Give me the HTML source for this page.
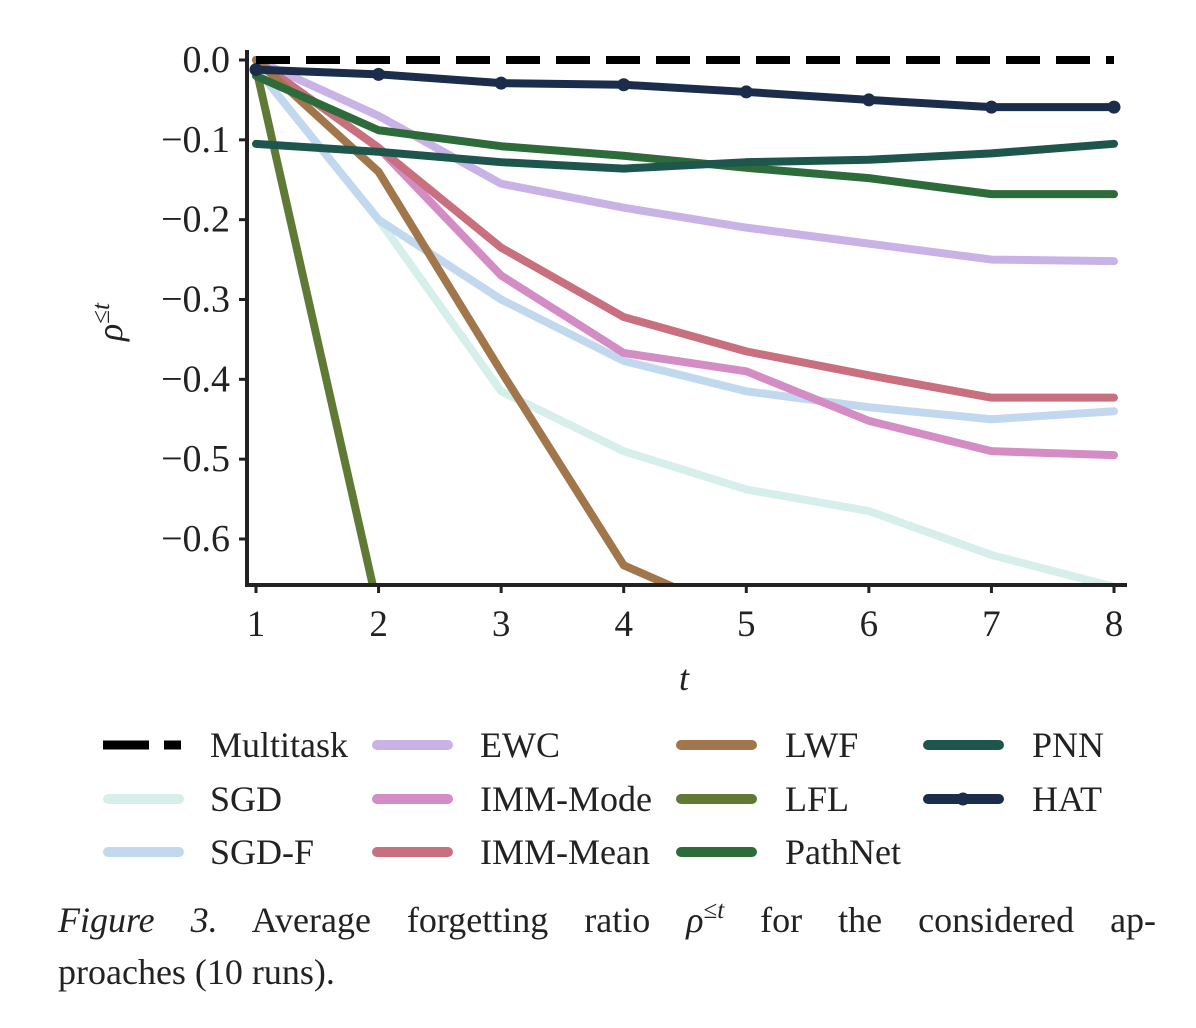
<!DOCTYPE html>
<html style="overflow:hidden"><head><meta charset="utf-8"><style>
html,body{margin:0;padding:0;background:#fff;width:1196px;height:1028px;overflow:hidden;font-family:"Liberation Serif",serif}
svg{display:block}
svg text{font-family:"Liberation Serif",serif;fill:#222}
</style></head><body>
<svg id="c" width="1196" height="1028" xmlns="http://www.w3.org/2000/svg">
<defs><clipPath id="clip"><rect x="247" y="40" width="880" height="545"/></clipPath></defs>
<g id="plot" clip-path="url(#clip)"></g>
<g id="axes"></g>
<g id="legend"></g>
<text x="58" y="932" font-size="36" word-spacing="27"><tspan font-style="italic">Figure 3.</tspan> Average forgetting ratio <tspan font-style="italic">ρ</tspan><tspan dy="-14" font-size="25" word-spacing="0">≤<tspan font-style="italic">t</tspan></tspan><tspan dy="14"> for the considered ap-</tspan></text>
<text x="58" y="984" font-size="36">proaches (10 runs).</text>
</svg>
<script>
const tasks=[1,2,3,4,5,6,7,8];
const yTicks=[0.0,-0.1,-0.2,-0.3,-0.4,-0.5,-0.6];
const multitask=[0,0,0,0,0,0,0,0];
const sgd=[-0.01,-0.2,-0.415,-0.49,-0.538,-0.565,-0.62,-0.66];
const sgdF=[-0.01,-0.2,-0.3,-0.377,-0.415,-0.435,-0.45,-0.44];
const ewc=[0.0,-0.07,-0.155,-0.185,-0.21,-0.23,-0.25,-0.252];
const immMode=[0.0,-0.11,-0.27,-0.367,-0.39,-0.452,-0.49,-0.495];
const immMean=[0.0,-0.11,-0.235,-0.322,-0.365,-0.395,-0.423,-0.423];
const lwf=[0.0,-0.14,-0.39,-0.633,-0.70,-0.80,-0.88,-0.95];
const lfl=[-0.01,-0.69,-1.2,-1.3,-1.4,-1.5,-1.6,-1.7];
const pathnet=[-0.02,-0.088,-0.108,-0.12,-0.135,-0.148,-0.168,-0.168];
const pnn=[-0.105,-0.115,-0.128,-0.136,-0.128,-0.125,-0.117,-0.105];
const hat=[-0.012,-0.018,-0.029,-0.031,-0.040,-0.050,-0.059,-0.059];
const names=["Multitask","SGD","SGD-F","EWC","IMM-Mode","IMM-Mean","LWF","LFL","PathNet","PNN","HAT"];
const series=[multitask,sgd,sgdF,ewc,immMode,immMean,lwf,lfl,pathnet,pnn,hat];
const colors=["#000","#d6efea","#c2d8ef","#c9b3e6","#d48cc5","#c9707f","#a0764a","#5e7a35","#2e6b3a","#1e554c","#1b2d4a"];
const NS="http://www.w3.org/2000/svg";
const X=t=>256+(t-1)*(1114-256)/7;
const Y=v=>60-v*798.3;
function mk(p,tag,a){const e=document.createElementNS(NS,tag);for(const k in a)e.setAttribute(k,a[k]);p.appendChild(e);return e;}
const plot=document.getElementById('plot'),axes=document.getElementById('axes'),leg=document.getElementById('legend');
[1,2,3,4,5,6,7,8,9,10,0].forEach(i=>{
  const d=series[i].map((v,k)=>(k?'L':'M')+X(tasks[k])+' '+Y(v)).join(' ');
  const p=mk(plot,'path',{d:d,fill:'none',stroke:colors[i],'stroke-width':8,'stroke-linejoin':'round','stroke-linecap':i==0?'butt':'round','stroke-dasharray':i==0?'34 16':'none'});
  
  
  if(i==10) series[i].forEach((v,k)=>{const c=mk(plot,'circle',{cx:X(tasks[k]),cy:Y(v),r:6.5,fill:colors[i]});
    
    });
});
mk(axes,'path',{d:'M247 50 V585 H1127',fill:'none',stroke:'#222','stroke-width':4});
yTicks.forEach(v=>{mk(axes,'line',{x1:239,x2:247,y1:Y(v),y2:Y(v),stroke:'#222','stroke-width':3});
  const t=mk(axes,'text',{x:230,y:Y(v)+12,'text-anchor':'end','font-size':38});t.textContent=(v==0?'0.0':'−'+Math.abs(v).toFixed(1));
  
  });
tasks.forEach(t=>{mk(axes,'line',{x1:X(t),x2:X(t),y1:585,y2:593,stroke:'#222','stroke-width':3});
  const e=mk(axes,'text',{x:X(t),y:636,'text-anchor':'middle','font-size':37});e.textContent=t;
  
  });
const xt=mk(axes,'text',{x:684,y:690,'text-anchor':'middle','font-size':36,'font-style':'italic'});xt.textContent='t';


const yt=mk(axes,'text',{transform:'translate(122,322) rotate(-90)','text-anchor':'middle','font-size':36});
yt.innerHTML='<tspan font-style="italic">ρ</tspan><tspan dy="-13" font-size="25">≤<tspan font-style="italic">t</tspan></tspan>';


const cols=[[103,210],[372,480],[676,785],[923,1032]];
const rowsY=[745,799,852];
const pos=[[0,0],[0,1],[0,2],[1,0],[1,1],[1,2],[2,0],[2,1],[2,2],[3,0],[3,1]];
names.forEach((n,i)=>{const [c,r]=pos[i];const x0=cols[c][0],tx=cols[c][1],y=rowsY[r];
  const g=mk(leg,'g',{});
  
  
  mk(g,'line',{x1:x0+(i==0?0:5),x2:x0+(i==0?78:76),y1:y,y2:y,stroke:colors[i],'stroke-width':i==0?9:10,'stroke-linecap':i==0?'butt':'round','stroke-dasharray':i==0?'46 15':'none'});
  if(i==10) mk(g,'circle',{cx:x0+40,cy:y,r:6.5,fill:colors[i]});
  const t=mk(g,'text',{x:tx,y:y+12,'font-size':36});t.textContent=n;});
</script>
</body></html>
